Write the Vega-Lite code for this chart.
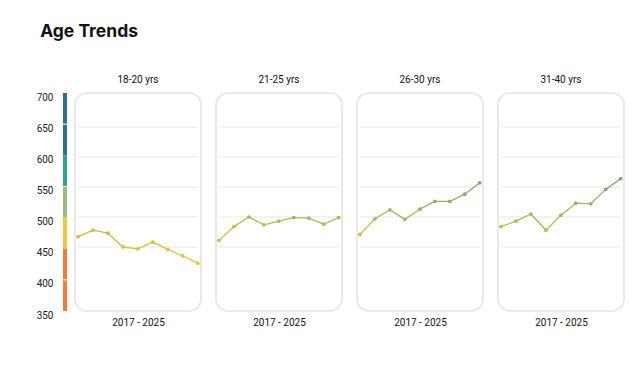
{
  "$schema": "https://vega.github.io/schema/vega-lite/v6.json",
  "background": "white",
  "padding": {"left": 36, "top": 22, "right": 4, "bottom": 4},
  "title": {"text": "Age Trends", "anchor": "start", "font": "Inter", "fontSize": 17.5, "fontWeight": 700, "color": "#111111", "offset": 34, "dx": 4},
  "datasets": {
    "trend": [
      {"g": "18-20 yrs", "year": 2017, "v": 467}, {"g": "18-20 yrs", "year": 2018, "v": 478}, {"g": "18-20 yrs", "year": 2019, "v": 473},
      {"g": "18-20 yrs", "year": 2020, "v": 450}, {"g": "18-20 yrs", "year": 2021, "v": 447}, {"g": "18-20 yrs", "year": 2022, "v": 458},
      {"g": "18-20 yrs", "year": 2023, "v": 446}, {"g": "18-20 yrs", "year": 2024, "v": 435}, {"g": "18-20 yrs", "year": 2025, "v": 423},
      {"g": "21-25 yrs", "year": 2017, "v": 461}, {"g": "21-25 yrs", "year": 2018, "v": 484}, {"g": "21-25 yrs", "year": 2019, "v": 500},
      {"g": "21-25 yrs", "year": 2020, "v": 487}, {"g": "21-25 yrs", "year": 2021, "v": 493}, {"g": "21-25 yrs", "year": 2022, "v": 499},
      {"g": "21-25 yrs", "year": 2023, "v": 498}, {"g": "21-25 yrs", "year": 2024, "v": 488}, {"g": "21-25 yrs", "year": 2025, "v": 499},
      {"g": "26-30 yrs", "year": 2017, "v": 471}, {"g": "26-30 yrs", "year": 2018, "v": 497}, {"g": "26-30 yrs", "year": 2019, "v": 512},
      {"g": "26-30 yrs", "year": 2020, "v": 496}, {"g": "26-30 yrs", "year": 2021, "v": 513}, {"g": "26-30 yrs", "year": 2022, "v": 526},
      {"g": "26-30 yrs", "year": 2023, "v": 526}, {"g": "26-30 yrs", "year": 2024, "v": 538}, {"g": "26-30 yrs", "year": 2025, "v": 557},
      {"g": "31-40 yrs", "year": 2017, "v": 484}, {"g": "31-40 yrs", "year": 2018, "v": 493}, {"g": "31-40 yrs", "year": 2019, "v": 505},
      {"g": "31-40 yrs", "year": 2020, "v": 478}, {"g": "31-40 yrs", "year": 2021, "v": 503}, {"g": "31-40 yrs", "year": 2022, "v": 523},
      {"g": "31-40 yrs", "year": 2023, "v": 522}, {"g": "31-40 yrs", "year": 2024, "v": 546}, {"g": "31-40 yrs", "year": 2025, "v": 564}
    ],
    "grid": [{"t": 450}, {"t": 500}, {"t": 550}, {"t": 600}, {"t": 650}],
    "bands": [
      {"band": "a", "lo": 350, "hi": 400}, {"band": "a", "lo": 400, "hi": 450},
      {"band": "b", "lo": 450, "hi": 500}, {"band": "c", "lo": 500, "hi": 550},
      {"band": "d", "lo": 550, "hi": 600}, {"band": "e", "lo": 600, "hi": 650},
      {"band": "e", "lo": 650, "hi": 700}
    ],
    "seps": [{"s": 400}, {"s": 550}, {"s": 650}]
  },
  "resolve": {"scale": {"x": "independent", "y": "independent", "color": "independent"}},
  "spacing": 6,
  "hconcat": [
    {
      "width": 4, "height": 218,
      "view": {"stroke": null, "fill": null},
      "layer": [
        {
          "data": {"name": "bands"},
          "mark": {"type": "rect"},
          "encoding": {
            "y": {"field": "lo", "type": "quantitative", "scale": {"domain": [350, 700], "nice": false, "zero": false},
                  "axis": {"values": [350, 400, 450, 500, 550, 600, 650, 700], "ticks": false, "domain": false, "grid": false, "labelPadding": 10, "labelFont": "Roboto", "labelFontSize": 10, "labelColor": "#222222", "labelOffset": 4, "labelFlush": false, "labelOverlap": false, "labelBound": false, "title": null}},
            "y2": {"field": "hi"},
            "color": {"field": "band", "type": "nominal", "legend": null,
                      "scale": {"domain": ["a", "b", "c", "d", "e"], "range": ["#f47a3a", "#efc93b", "#9eb97f", "#2ba58f", "#2e6f8e"]}}
          }
        },
        {
          "data": {"name": "seps"},
          "mark": {"type": "rule", "color": "white", "strokeWidth": 1},
          "encoding": {"y": {"field": "s", "type": "quantitative",
                  "axis": {"values": [350, 400, 450, 500, 550, 600, 650, 700], "ticks": false, "domain": false, "grid": false, "labelPadding": 10, "labelFont": "Roboto", "labelFontSize": 10, "labelColor": "#222222", "labelOffset": 4, "labelFlush": false, "labelOverlap": false, "labelBound": false, "title": null}}}
        }
      ]
    },
    {
      "spacing": 13,
      "resolve": {"scale": {"x": "independent", "y": "independent"}},
      "hconcat": [
        {
          "width": 126, "height": 218,
          "title": {"text": "18-20 yrs"},
          "layer": [
            {"data": {"name": "grid"}, "mark": {"type": "rule", "color": "#e6e6e6", "strokeWidth": 1},
             "encoding": {"x": {"datum": 2017, "type": "quantitative", "scale": {"domain": [2016.8, 2025.22], "nice": false, "zero": false}, "axis": {"title": "2017 - 2025", "labels": false, "ticks": false, "domain": false, "grid": false}},
                          "x2": {"datum": 2025},
                          "y": {"field": "t", "type": "quantitative", "scale": {"domain": [343.3, 706.7], "nice": false, "zero": false}, "axis": null}}},
            {"data": {"name": "trend"}, "transform": [{"filter": "datum.g === '18-20 yrs'"}, {"window": [{"op": "lead", "field": "v", "as": "v2"}, {"op": "lead", "field": "year", "as": "year2"}], "sort": [{"field": "year"}]}, {"filter": "datum.v2 != null"}],
             "mark": {"type": "rule", "strokeWidth": 1.3},
             "encoding": {"x": {"field": "year", "type": "quantitative"}, "x2": {"field": "year2"}, "y": {"field": "v", "type": "quantitative"}, "y2": {"field": "v2"},
                          "color": {"field": "v", "type": "quantitative", "legend": null, "scale": {"domain": [440, 560], "range": ["#e6c235", "#78a67e"], "interpolate": "rgb", "clamp": true}}}},
            {"data": {"name": "trend"}, "transform": [{"filter": "datum.g === '18-20 yrs'"}],
             "mark": {"type": "point", "filled": true, "size": 14, "opacity": 1},
             "encoding": {"x": {"field": "year", "type": "quantitative"}, "y": {"field": "v", "type": "quantitative"},
                          "color": {"field": "v", "type": "quantitative", "legend": null}}}
          ]
        },
        {
          "width": 126, "height": 218,
          "title": {"text": "21-25 yrs"},
          "layer": [
            {"data": {"name": "grid"}, "mark": {"type": "rule", "color": "#e6e6e6", "strokeWidth": 1},
             "encoding": {"x": {"datum": 2017, "type": "quantitative", "scale": {"domain": [2016.8, 2025.22], "nice": false, "zero": false}, "axis": {"title": "2017 - 2025", "labels": false, "ticks": false, "domain": false, "grid": false}},
                          "x2": {"datum": 2025},
                          "y": {"field": "t", "type": "quantitative", "scale": {"domain": [343.3, 706.7], "nice": false, "zero": false}, "axis": null}}},
            {"data": {"name": "trend"}, "transform": [{"filter": "datum.g === '21-25 yrs'"}, {"window": [{"op": "lead", "field": "v", "as": "v2"}, {"op": "lead", "field": "year", "as": "year2"}], "sort": [{"field": "year"}]}, {"filter": "datum.v2 != null"}],
             "mark": {"type": "rule", "strokeWidth": 1.3},
             "encoding": {"x": {"field": "year", "type": "quantitative"}, "x2": {"field": "year2"}, "y": {"field": "v", "type": "quantitative"}, "y2": {"field": "v2"},
                          "color": {"field": "v", "type": "quantitative", "legend": null, "scale": {"domain": [440, 560], "range": ["#e6c235", "#78a67e"], "interpolate": "rgb", "clamp": true}}}},
            {"data": {"name": "trend"}, "transform": [{"filter": "datum.g === '21-25 yrs'"}],
             "mark": {"type": "point", "filled": true, "size": 14, "opacity": 1},
             "encoding": {"x": {"field": "year", "type": "quantitative"}, "y": {"field": "v", "type": "quantitative"},
                          "color": {"field": "v", "type": "quantitative", "legend": null}}}
          ]
        },
        {
          "width": 126, "height": 218,
          "title": {"text": "26-30 yrs"},
          "layer": [
            {"data": {"name": "grid"}, "mark": {"type": "rule", "color": "#e6e6e6", "strokeWidth": 1},
             "encoding": {"x": {"datum": 2017, "type": "quantitative", "scale": {"domain": [2016.8, 2025.22], "nice": false, "zero": false}, "axis": {"title": "2017 - 2025", "labels": false, "ticks": false, "domain": false, "grid": false}},
                          "x2": {"datum": 2025},
                          "y": {"field": "t", "type": "quantitative", "scale": {"domain": [343.3, 706.7], "nice": false, "zero": false}, "axis": null}}},
            {"data": {"name": "trend"}, "transform": [{"filter": "datum.g === '26-30 yrs'"}, {"window": [{"op": "lead", "field": "v", "as": "v2"}, {"op": "lead", "field": "year", "as": "year2"}], "sort": [{"field": "year"}]}, {"filter": "datum.v2 != null"}],
             "mark": {"type": "rule", "strokeWidth": 1.3},
             "encoding": {"x": {"field": "year", "type": "quantitative"}, "x2": {"field": "year2"}, "y": {"field": "v", "type": "quantitative"}, "y2": {"field": "v2"},
                          "color": {"field": "v", "type": "quantitative", "legend": null, "scale": {"domain": [440, 560], "range": ["#e6c235", "#78a67e"], "interpolate": "rgb", "clamp": true}}}},
            {"data": {"name": "trend"}, "transform": [{"filter": "datum.g === '26-30 yrs'"}],
             "mark": {"type": "point", "filled": true, "size": 14, "opacity": 1},
             "encoding": {"x": {"field": "year", "type": "quantitative"}, "y": {"field": "v", "type": "quantitative"},
                          "color": {"field": "v", "type": "quantitative", "legend": null}}}
          ]
        },
        {
          "width": 126, "height": 218,
          "title": {"text": "31-40 yrs"},
          "layer": [
            {"data": {"name": "grid"}, "mark": {"type": "rule", "color": "#e6e6e6", "strokeWidth": 1},
             "encoding": {"x": {"datum": 2017, "type": "quantitative", "scale": {"domain": [2016.8, 2025.22], "nice": false, "zero": false}, "axis": {"title": "2017 - 2025", "labels": false, "ticks": false, "domain": false, "grid": false}},
                          "x2": {"datum": 2025},
                          "y": {"field": "t", "type": "quantitative", "scale": {"domain": [343.3, 706.7], "nice": false, "zero": false}, "axis": null}}},
            {"data": {"name": "trend"}, "transform": [{"filter": "datum.g === '31-40 yrs'"}, {"window": [{"op": "lead", "field": "v", "as": "v2"}, {"op": "lead", "field": "year", "as": "year2"}], "sort": [{"field": "year"}]}, {"filter": "datum.v2 != null"}],
             "mark": {"type": "rule", "strokeWidth": 1.3},
             "encoding": {"x": {"field": "year", "type": "quantitative"}, "x2": {"field": "year2"}, "y": {"field": "v", "type": "quantitative"}, "y2": {"field": "v2"},
                          "color": {"field": "v", "type": "quantitative", "legend": null, "scale": {"domain": [440, 560], "range": ["#e6c235", "#78a67e"], "interpolate": "rgb", "clamp": true}}}},
            {"data": {"name": "trend"}, "transform": [{"filter": "datum.g === '31-40 yrs'"}],
             "mark": {"type": "point", "filled": true, "size": 14, "opacity": 1},
             "encoding": {"x": {"field": "year", "type": "quantitative"}, "y": {"field": "v", "type": "quantitative"},
                          "color": {"field": "v", "type": "quantitative", "legend": null}}}
          ]
        }
      ]
    }
  ],
  "config": {
    "font": "Roboto",
    "view": {"fill": "white", "stroke": "#e9e9e9", "strokeWidth": 2, "cornerRadius": 12},
    "title": {"font": "Roboto", "fontSize": 10, "fontWeight": "normal", "color": "#111111", "offset": 8},
    "axis": {"titleFont": "Roboto", "titleFontSize": 10, "titleFontWeight": "normal", "titleColor": "#111111", "titlePadding": 6}
  }
}
